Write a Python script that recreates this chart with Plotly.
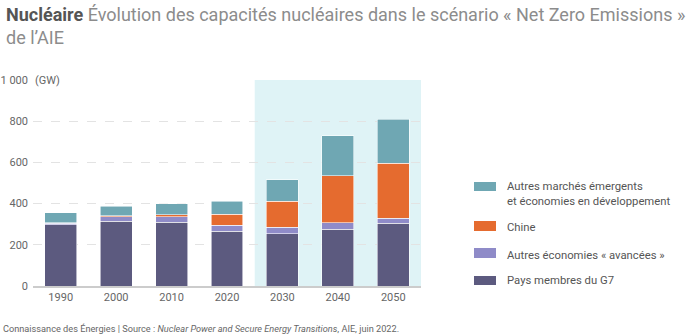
import plotly.graph_objects as go

years = ["1990", "2000", "2010", "2020", "2030", "2040", "2050"]
g7 = [297, 315, 310, 267, 254, 276, 304]
autres_avancees = [8, 20, 25, 29, 31, 30, 26]
chine = [2, 5, 12, 52, 126, 229, 265]
autres_emergents = [48, 46, 53, 64, 105, 194, 215]

names = ["Pays membres du G7", "Autres économies « avancées »", "Chine",
         "Autres marchés émergents<br>et économies en développement"]
colors = ["#5c5a7f", "#8f8bc8", "#e56b2f", "#6fa7b3"]
series = [g7, autres_avancees, chine, autres_emergents]

W, H = 700, 335
L, R, T, B = 33, 279, 80, 49
pw = W - L - R
ph = H - T - B

def px(x):
    return (x - L) / pw

def py(y):
    return (H - B - y) / ph

fig = go.Figure()
for n, c, s in zip(names, colors, series):
    fig.add_trace(go.Bar(x=years, y=s, name=n, marker_color=c,
                         marker_line_color="rgba(255,255,255,0.7)", marker_line_width=0.8,
                         showlegend=False))

shapes = [dict(type="rect", xref="x", yref="y", x0=3.5, x1=6.5, y0=0, y1=1000,
               fillcolor="#dff3f6", line_width=0, layer="below")]

# custom legend
leg = [
    (colors[3], 182, 191),
    (colors[2], 221, 231),
    (colors[1], 248, 258),
    (colors[0], 276, 285),
]
for c, y0, y1 in leg:
    shapes.append(dict(type="rect", xref="paper", yref="paper", x0=px(474), x1=px(496),
                       y0=py(y1), y1=py(y0), fillcolor=c, line_width=0))

annotations = []
leg_text = [("Autres marchés émergents<br>et économies en développement", 194),
            ("Chine", 227.5), ("Autres économies « avancées »", 255), ("Pays membres du G7", 280.5)]
for t, yc in leg_text:
    annotations.append(dict(text=t, xref="paper", yref="paper", x=px(505), y=py(yc),
                            xanchor="left", yanchor="middle", showarrow=False, align="left",
                            font=dict(size=11.3, color="#555", family="Roboto")))

annotations.append(dict(text="(GW)", xref="paper", yref="paper", x=0, y=1, xanchor="left",
                        yanchor="middle", showarrow=False, font=dict(size=11, color="#666", family="Roboto")))

annotations.append(dict(
    text="<b><span style='color:#555'>Nucléaire</span></b> Évolution des capacités nucléaires dans le scénario « Net Zero Emissions »<br>de l’AIE",
    xref="paper", yref="paper", x=px(4), y=py(2), xanchor="left", yanchor="top", showarrow=False,
    align="left", font=dict(size=18, color="#8c8c8c", family="Roboto")))

annotations.append(dict(
    text="Connaissance des Énergies | Source : <i>Nuclear Power and Secure Energy Transitions</i>, AIE, juin 2022.",
    xref="paper", yref="paper", x=px(1), y=py(328), xanchor="left", yanchor="middle", showarrow=False,
    font=dict(size=9.2, color="#666", family="Roboto")))

fig.update_layout(
    width=W, height=H, barmode="stack", bargap=0.425,
    margin=dict(l=L, r=R, t=T, b=B),
    plot_bgcolor="white", paper_bgcolor="white",
    font=dict(family="Roboto", color="#666", size=11),
    shapes=shapes, annotations=annotations,
    xaxis=dict(type="category", range=[-0.5, 6.5], showline=True, linecolor="#ccc", linewidth=2,
               ticks="", automargin=False, tickfont=dict(size=11, color="#666")),
    yaxis=dict(range=[0, 1000], tickvals=[0, 200, 400, 600, 800, 1000],
               ticktext=["0", "200", "400", "600", "800", "1 000"],
               showgrid=True, gridcolor="#e3e3e3", griddash="dash", gridwidth=1,
               zeroline=False, ticks="", automargin=False, ticklabelstandoff=4,
               tickfont=dict(size=11, color="#666")),
)

fig.write_html("out.html")
